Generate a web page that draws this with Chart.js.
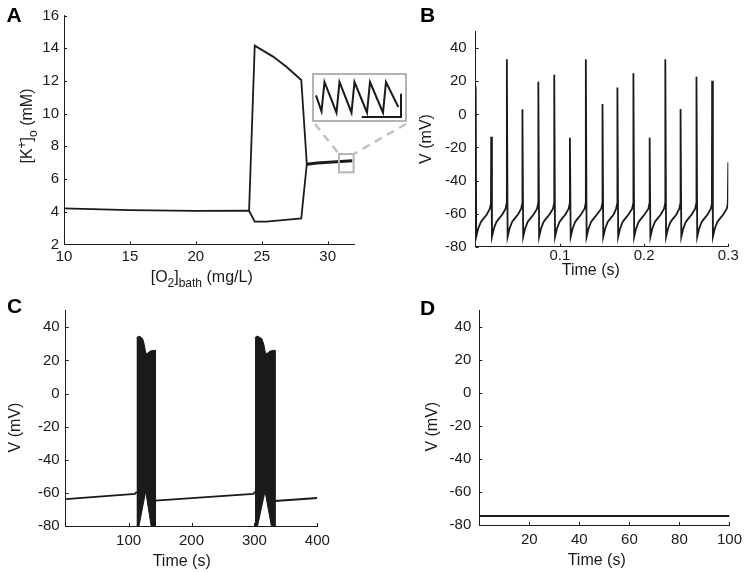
<!DOCTYPE html>
<html>
<head>
<meta charset="utf-8">
<script src="https://cdn.jsdelivr.net/npm/chart.js@4.4.1/dist/chart.umd.min.js"></script>
<style>
  html, body { margin: 0; padding: 0; background: #fff; }
  #fig { position: relative; width: 748px; height: 572px; overflow: hidden; }
  #fig canvas { position: absolute; }
  #insetBox {
    position: absolute; left: 312px; top: 73px; width: 95px; height: 49px;
    box-sizing: border-box; border: 2px solid #b4b4b4; background: #fff;
  }
  #insetBox canvas { position: absolute; left: 0; top: 0; }
</style>
</head>
<body>
<div id="fig">
  <canvas id="chartA" width="420" height="290" style="left:0;top:0"></canvas>
  <canvas id="chartB" width="358" height="290" style="left:390px;top:0"></canvas>
  <canvas id="chartC" width="390" height="282" style="left:0;top:290px"></canvas>
  <canvas id="chartD" width="358" height="282" style="left:390px;top:290px"></canvas>
  <div id="insetBox"><canvas id="chartInset" width="91" height="45"></canvas></div>
</div>
<script>
// ---- Panel A: [K+]o vs bath O2 ----
const o2Rest = [10, 15, 20, 24.04];
const kRest = [4.21, 4.1, 4.05, 4.06];
const o2Max = [24.04, 24.47, 25.86, 26.87, 28.0, 28.42];
const kMax = [4.06, 14.16, 13.49, 12.87, 12.06, 6.92];
const o2Min = [24.04, 24.47, 25.35, 26.6, 28.0, 28.42];
const kMin = [4.06, 3.39, 3.39, 3.49, 3.59, 6.92];
const o2Osc = [28.42, 29.2, 31.87];
const kOsc = [6.9, 6.98, 7.12];
const xTicksA = [10, 15, 20, 25, 30];
const yTicksA = [2, 4, 6, 8, 10, 12, 14, 16];
const zoomBoxA = [30.86, 31.97, 6.41, 7.53]; // x0, x1, y0, y1 of the magnified region

// inset (arbitrary units)
const insetT = [2, 7.5, 10.5, 22.5, 25.5, 37.5, 40.5, 53, 56, 69, 72, 84.3];
const insetK = [24.7, 8.7, 38, 7.3, 38, 7.3, 38, 7.3, 38, 7.3, 38, 13];
const insetBarT = [47.7, 87, 87];
const insetBarK = [3, 3, 26.3];

// ---- Panel B: fast spiking ----
const timeB = [
  0, 0.0006, 0.003, 0.0062, 0.0092, 0.0132, 0.0168, 0.0181, 0.0184, 0.0193,
  0.0216, 0.0246, 0.0276, 0.0316, 0.0355, 0.0367, 0.0370, 0.0379,
  0.0402, 0.0432, 0.0462, 0.0502, 0.0540, 0.0552, 0.0555, 0.0564,
  0.0587, 0.0617, 0.0647, 0.0687, 0.0729, 0.0741, 0.0744, 0.0753,
  0.0776, 0.0806, 0.0836, 0.0876, 0.0918, 0.0930, 0.0933, 0.0942,
  0.0965, 0.0995, 0.1025, 0.1065, 0.1104, 0.1116, 0.1119, 0.1128,
  0.1151, 0.1181, 0.1211, 0.1251, 0.1293, 0.1305, 0.1308, 0.1317,
  0.1340, 0.1370, 0.1400, 0.1440, 0.1491, 0.1503, 0.1506, 0.1515,
  0.1538, 0.1568, 0.1598, 0.1638, 0.1668, 0.1680, 0.1683, 0.1692,
  0.1715, 0.1745, 0.1775, 0.1815, 0.1858, 0.1870, 0.1873, 0.1882,
  0.1905, 0.1935, 0.1965, 0.2005, 0.2051, 0.2063, 0.2066, 0.2075,
  0.2098, 0.2128, 0.2158, 0.2198, 0.2237, 0.2249, 0.2252, 0.2261,
  0.2284, 0.2314, 0.2344, 0.2384, 0.2418, 0.2430, 0.2433, 0.2442,
  0.2465, 0.2495, 0.2525, 0.2565, 0.2607, 0.2619, 0.2622, 0.2631,
  0.2654, 0.2684, 0.2714, 0.2754, 0.2793, 0.2805, 0.2808, 0.2817,
  0.2840, 0.2870, 0.2900, 0.2940, 0.2982, 0.2994, 0.3000
];
const voltB = [
  17, -74, -69, -65, -63, -60.5, -57, -54, -13.5, -74,
  -69, -65, -63, -60.5, -57, -54, 33.4, -74,
  -69, -65, -63, -60.5, -57, -54, 3.1, -74,
  -69, -65, -63, -60.5, -57, -54, 19.8, -74,
  -69, -65, -63, -60.5, -57, -54, 23.9, -74,
  -69, -65, -63, -60.5, -57, -54, -14.1, -74,
  -69, -65, -63, -60.5, -57, -54, 33.4, -74,
  -69, -65, -63, -60.5, -57, -54, 6.3, -74,
  -69, -65, -63, -60.5, -57, -54, 16.2, -74,
  -69, -65, -63, -60.5, -57, -54, 24.9, -74,
  -69, -65, -63, -60.5, -57, -54, -14.1, -74,
  -69, -65, -63, -60.5, -57, -54, 33.4, -74,
  -69, -65, -63, -60.5, -57, -54, 3.3, -74,
  -69, -65, -63, -60.5, -57, -54, 22.8, -74,
  -69, -65, -63, -60.5, -57, -54, 20.4, -74,
  -69, -65, -63, -60.5, -57, -54, -29
];
const xTicksB = [0.1, 0.2, 0.3];
const yTicksV = [-80, -60, -40, -20, 0, 20, 40];

// ---- Panel C: bursting ----
const timeRestC = [0, 110.2, 112.9, null, 142.5, 298.3, 301, null, 332.8, 400];
const voltRestC = [-63.8, -60.6, -59.3, null, -64.7, -60.6, -59.3, null, -64.9, -63.1];
const timeTop1 = [112.9, 115.5, 118.1, 122.4, 125, 127.2, 129.7, 134, 139.3, 142.5];
const voltTop1 = [33.6, 34.6, 34.4, 33, 29.5, 24.5, 24.1, 25.5, 26.1, 26];
const timeLow1 = [112.9, 116.5, 127.2, 135.8, 142.5];
const voltLow1 = [-80, -80, -59, -80, -80];
const timeTop2 = [301, 303.5, 306.5, 312, 315, 317.5, 320, 324.5, 329.5, 332.8];
const voltTop2 = [33.6, 34.6, 34.4, 33, 29.5, 24.5, 24.1, 25.5, 26.1, 26];
const timeLow2 = [301, 305, 316.9, 327, 332.8];
const voltLow2 = [-80, -80, -59, -80, -80];
const xTicksC = [100, 200, 300, 400];

// ---- Panel D: quiescent ----
const timeD = [0, 100];
const voltD = [-74.5, -74.5];
const xTicksD = [20, 40, 60, 80, 100];

const FONT = '"Liberation Sans", Arial, Helvetica, sans-serif';
const INK = '#1a1a1a';
Chart.defaults.font.family = FONT;

function pts(xs, ys) {
  return xs.map((x, i) => ({ x: x, y: ys[i] }));
}

function series(xs, ys, width, extra) {
  return Object.assign({
    data: pts(xs, ys),
    showLine: true,
    borderColor: INK,
    backgroundColor: INK,
    borderWidth: width,
    pointRadius: 0,
    fill: false,
    tension: 0,
  }, extra || {});
}

function fontFor(kind) {
  return (kind === 'n' ? '16px ' : '12px ') + FONT;
}

function drawRich(ctx, parts, x, y, rotate) {
  ctx.save();
  ctx.translate(x, y);
  if (rotate) ctx.rotate(-Math.PI / 2);
  ctx.fillStyle = INK;
  ctx.textBaseline = 'alphabetic';
  let w = 0;
  parts.forEach(p => { ctx.font = fontFor(p[1]); w += ctx.measureText(p[0]).width; });
  let cx = -w / 2;
  parts.forEach(p => {
    ctx.font = fontFor(p[1]);
    const dy = p[1] === 'sub' ? 5 : p[1] === 'sup' ? -6 : 0;
    ctx.fillText(p[0], cx, dy);
    cx += ctx.measureText(p[0]).width;
  });
  ctx.restore();
}

// panel letter, rich axis titles and inward tick marks
const decor = {
  id: 'decor',
  afterDraw(chart, args, o) {
    if (!o || !o.letter) return;
    const ctx = chart.ctx;
    const { left, bottom } = chart.chartArea;
    const sx = chart.scales.x, sy = chart.scales.y;
    ctx.save();
    ctx.strokeStyle = INK;
    ctx.lineWidth = 1;
    ctx.beginPath();
    sx.ticks.forEach(t => {
      const p = Math.round(sx.getPixelForValue(t.value)) + 0.5;
      ctx.moveTo(p, bottom); ctx.lineTo(p, bottom - 3);
    });
    sy.ticks.forEach(t => {
      const p = Math.round(sy.getPixelForValue(t.value)) + 0.5;
      ctx.moveTo(left, p); ctx.lineTo(left + 3, p);
    });
    ctx.stroke();
    ctx.fillStyle = '#000';
    ctx.font = 'bold 21px ' + FONT;
    ctx.fillText(o.letter, o.letterAt[0], o.letterAt[1]);
    drawRich(ctx, o.xTitle, o.xAt[0], o.xAt[1], false);
    drawRich(ctx, o.yTitle, o.yAt[0], o.yAt[1], true);
    ctx.restore();
  }
};

// grey box around the magnified region + dashed connectors to the inset
const zoomMark = {
  id: 'zoomMark',
  afterDatasetsDraw(chart) {
    const sx = chart.scales.x, sy = chart.scales.y;
    const x0 = sx.getPixelForValue(zoomBoxA[0]), x1 = sx.getPixelForValue(zoomBoxA[1]);
    const y0 = sy.getPixelForValue(zoomBoxA[3]), y1 = sy.getPixelForValue(zoomBoxA[2]);
    const box = document.getElementById('insetBox');
    const bl = box.offsetLeft + 1, br = box.offsetLeft + box.offsetWidth - 1;
    const bb = box.offsetTop + box.offsetHeight;
    const ctx = chart.ctx;
    ctx.save();
    ctx.strokeStyle = '#b4b4b4';
    ctx.lineWidth = 2;
    ctx.strokeRect(x0, y0, x1 - x0, y1 - y0);
    ctx.strokeStyle = '#c2c2c2';
    ctx.lineWidth = 2.5;
    ctx.setLineDash([8, 6]);
    ctx.beginPath();
    ctx.moveTo(bl + 2, bb + 2); ctx.lineTo(x0, y0);
    ctx.moveTo(br, bb + 2); ctx.lineTo(x1, y0);
    ctx.stroke();
    ctx.restore();
  }
};

function axis(a) {
  return {
    type: 'linear',
    position: a.position,
    min: a.min,
    max: a.max,
    afterBuildTicks: s => { s.ticks = a.ticks.map(v => ({ value: v })); },
    afterFit: s => {
      if (a.width !== undefined) s.width = a.width;
      if (a.height !== undefined) s.height = a.height;
    },
    grid: { display: false, drawTicks: false },
    border: { display: true, color: INK, width: 1 },
    ticks: {
      padding: a.pad,
      color: INK,
      font: { family: FONT, size: 15 },
      callback: v => String(v),
    },
  };
}

function panel(id, datasets, o) {
  return new Chart(document.getElementById(id), {
    type: 'scatter',
    data: { datasets: datasets },
    options: {
      responsive: false,
      animation: false,
      events: [],
      layout: { padding: o.pad },
      plugins: { legend: { display: false }, tooltip: { enabled: false }, decor: o.decor },
      scales: { x: axis(o.x), y: axis(o.y) },
    },
    plugins: [decor].concat(o.extra || []),
  });
}

const voltTitle = [['V (mV)', 'n']];
const timeTitle = [['Time (s)', 'n']];

panel('chartA', [
  series(o2Rest, kRest, 1.8),
  series(o2Max, kMax, 1.8),
  series(o2Min, kMin, 1.8),
  series(o2Osc, kOsc, 3),
], {
  pad: { left: 0, right: 66, top: 15.6, bottom: 0 },
  x: { position: 'bottom', min: 10, max: 32, ticks: xTicksA, height: 45.6, pad: 3 },
  y: { position: 'left', min: 2, max: 16, ticks: yTicksA, width: 64, pad: 5 },
  decor: {
    letter: 'A', letterAt: [6.5, 21.7],
    xTitle: [['[O', 'n'], ['2', 'sub'], [']', 'n'], ['bath', 'sub'], [' (mg/L)', 'n']],
    xAt: [201.7, 281.5],
    yTitle: [['[K', 'n'], ['+', 'sup'], [']', 'n'], ['o', 'sub'], [' (mM)', 'n']],
    yAt: [32, 126],
  },
  extra: [zoomMark],
});

new Chart(document.getElementById('chartInset'), {
  type: 'scatter',
  data: {
    datasets: [
      series(insetT, insetK, 2),
      series(insetBarT, insetBarK, 2),
    ],
  },
  options: {
    responsive: false,
    animation: false,
    events: [],
    layout: { padding: 0 },
    plugins: { legend: { display: false }, tooltip: { enabled: false } },
    scales: {
      x: { type: 'linear', display: false, min: 0, max: 91 },
      y: { type: 'linear', display: false, min: 0, max: 45 },
    },
  },
});

panel('chartB', [series(timeB, voltB, 1.8)], {
  pad: { left: 0, right: 19.7, top: 31.7, bottom: 0 },
  x: { position: 'bottom', min: 0, max: 0.3, ticks: xTicksB, height: 43.3, pad: 0 },
  y: { position: 'left', min: -80, max: 50, ticks: yTicksV, width: 85.7, pad: 9 },
  decor: { letter: 'B', letterAt: [30, 21.7], xTitle: timeTitle, xAt: [200.8, 275], yTitle: voltTitle, yAt: [41, 139] },
});

panel('chartC', [
  series(timeRestC, voltRestC, 1.8),
  series(timeTop1.concat(timeLow1.slice().reverse()), voltTop1.concat(voltLow1.slice().reverse()), 1, { fill: 'shape' }),
  series(timeTop2.concat(timeLow2.slice().reverse()), voltTop2.concat(voltLow2.slice().reverse()), 1, { fill: 'shape' }),
], {
  pad: { left: 0, right: 72.7, top: 20.7, bottom: 0 },
  x: { position: 'bottom', min: 0, max: 400, ticks: xTicksC, height: 46, pad: 6 },
  y: { position: 'left', min: -80, max: 50, ticks: yTicksV, width: 65.7, pad: 6 },
  decor: { letter: 'C', letterAt: [7, 23.3], xTitle: timeTitle, xAt: [181.7, 276], yTitle: voltTitle, yAt: [20, 137.5] },
});

panel('chartD', [series(timeD, voltD, 2)], {
  pad: { left: 0, right: 16.3, top: 20.7, bottom: 0 },
  x: { position: 'bottom', min: 0, max: 100, ticks: xTicksD, height: 47, pad: 6 },
  y: { position: 'left', min: -80, max: 50, ticks: yTicksV, width: 89.3, pad: 8 },
  decor: { letter: 'D', letterAt: [30, 25], xTitle: timeTitle, xAt: [206.7, 275], yTitle: voltTitle, yAt: [47, 136.7] },
});
</script>
</body>
</html>
